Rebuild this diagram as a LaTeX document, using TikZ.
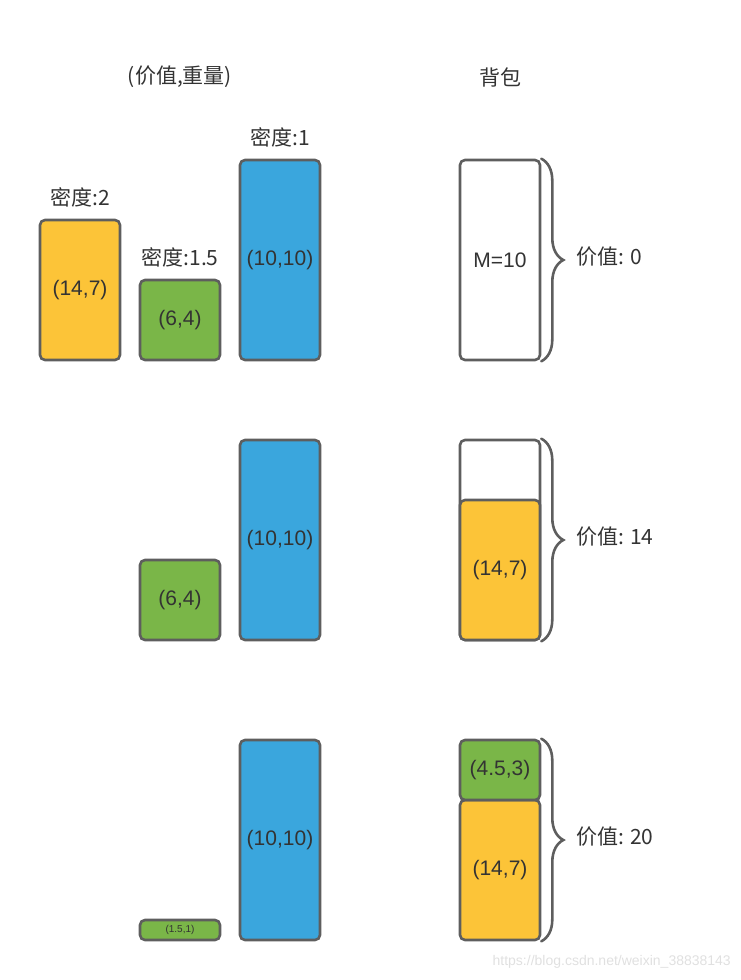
\documentclass[tikz,border=0pt]{standalone}
\usepackage{fontspec}
\setmainfont{Liberation Sans}
\newfontfamily\cjk{Noto Sans CJK SC}
\usetikzlibrary{decorations.pathreplacing}
\definecolor{cyel}{HTML}{FCC438}
\definecolor{cgrn}{HTML}{7AB648}
\definecolor{cblu}{HTML}{3AA6DD}
\definecolor{cbrd}{HTML}{5E5E5E}
\definecolor{ctxt}{HTML}{333333}
\tikzset{
  item/.style={draw=cbrd, line width=2.6pt, rounded corners=5pt, inner sep=0pt, text=ctxt,
    font=\fontsize{21}{24}\selectfont, minimum width=80pt},
  yel/.style={item, fill=cyel},
  grn/.style={item, fill=cgrn},
  blu/.style={item, fill=cblu},
  sack/.style={item, fill=white},
  lbl/.style={text=ctxt, font=\cjk\fontsize{21}{24}\selectfont, inner sep=0pt},
  brc/.style={draw=cbrd, line width=2.6pt, line cap=round, decorate, decoration={brace, amplitude=22pt, aspect=0.5}},
}
\begin{document}
\begin{tikzpicture}[x=1pt,y=-1pt]
\useasboundingbox (0,0) rectangle (740,980);
% headers
\node[lbl] (h1) at (180,77) {(价值,重量)};
\node[lbl] (h2) at (500,77) {背包};
% row 1
\node[yel, minimum height=140pt] (y1) at (80,290) {(14,7)};
\node[grn, minimum height=80pt] (g1) at (180,320) {(6,4)};
\node[blu, minimum height=200pt] (b1) at (280,260) {(10,10)};
\node[lbl] (d1) at (80,197) {密度:2};
\node[lbl] (d2) at (180,257) {密度:1.5};
\node[lbl] (d3) at (280,137) {密度:1};
\node[sack, minimum height=200pt] (k1) at (500,260) {M=10};
\draw[brc] (k1.north east) -- (k1.south east);
\node[lbl, anchor=west] (v1) at (576,257) {价值: 0};
% row 2
\node[grn, minimum height=80pt] (g2) at (180,600) {(6,4)};
\node[blu, minimum height=200pt] (b2) at (280,540) {(10,10)};
\node[sack, minimum height=200pt] (k2) at (500,540) {};
\node[yel, minimum height=140pt] (y2) at (500,570) {(14,7)};
\draw[brc] (k2.north east) -- (k2.south east);
\node[lbl, anchor=west] (v2) at (576,537) {价值: 14};
% row 3
\node[grn, minimum height=20pt, font=\fontsize{10}{12}\selectfont] (g3) at (180,930) {(1.5,1)};
\node[blu, minimum height=200pt] (b3) at (280,840) {(10,10)};
\node[yel, minimum height=140pt] (y3) at (500,870) {(14,7)};
\node[grn, minimum height=60pt] (g4) at (500,770) {(4.5,3)};
\draw[brc] (g4.north east) -- (y3.south east);
\node[lbl, anchor=west] (v3) at (576,837) {价值: 20};
% watermark
\node[text=black!12, font=\fontsize{14}{16}\selectfont, anchor=east, inner sep=0pt] (wm) at (731,962) {https://blog.csdn.net/weixin\_38838143};
\end{tikzpicture}
\end{document}
